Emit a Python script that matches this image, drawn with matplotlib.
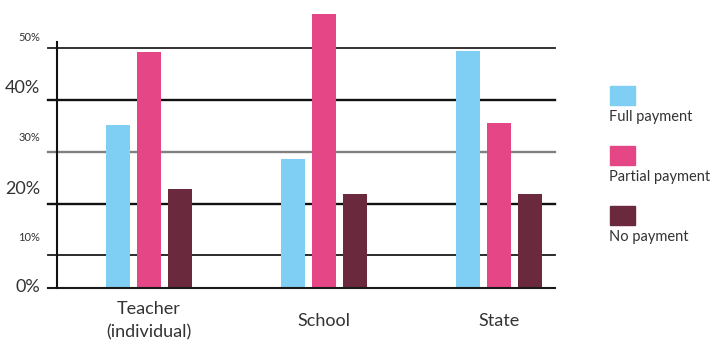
import matplotlib.pyplot as plt
from matplotlib.patches import Rectangle
import numpy as np

plt.rcParams['font.family'] = ['Lato', 'DejaVu Sans']

# Share of responses per payer, by payment type (%)
categories = ['Teacher\n(individual)', 'School', 'State']
series = ['Full payment', 'Partial payment', 'No payment']
full_payment = [35.2, 28.7, 49.4]
partial_payment = [49.3, 56.7, 35.6]
no_payment = [22.8, 21.9, 21.9]
tick_values = [10, 20, 30, 40, 50]
tick_labels = ['10%', '20%', '30%', '40%', '50%']

colors = ['#7fcff4', '#e44686', '#6b293d']
text_color = '#333333'

# the value axis starts a little above zero but is labelled 0%
y_base = 3.78
y_top = 59.33

W, H = 716, 340
fig = plt.figure(figsize=(W / 100, H / 100), dpi=100)
ax = fig.add_axes([57 / W, (H - 287.5) / H, (555 - 57) / W, 287.5 / H])

x = np.arange(len(categories))
step, width = 0.179, 0.137
for i, vals in enumerate([full_payment, partial_payment, no_payment]):
    ax.bar(x + (i - 1) * step, vals, width, color=colors[i], zorder=3)

ax.set_xlim(-0.526, 2.32)
ax.set_ylim(y_base, y_top)

# horizontal rules, each with its own weight
rule_styles = {
    10: ('#1a1a1a', 1.3),
    20: ('#111111', 1.7),
    30: ('#808080', 1.7),
    40: ('#111111', 1.7),
    50: ('#222222', 1.3),
}
tick_out = -9 / 498
ax.axhline(y_base, xmin=tick_out, xmax=1, color='#1a1a1a', lw=1.5,
           clip_on=False, zorder=4)
for v in tick_values:
    c, lw = rule_styles[v]
    ax.axhline(v, xmin=tick_out, xmax=1, color=c, lw=lw, clip_on=False, zorder=1)

for s in ['top', 'right', 'bottom']:
    ax.spines[s].set_visible(False)
ax.spines['left'].set_color('#111111')
ax.spines['left'].set_linewidth(1.5)
ax.spines['left'].set_bounds(y_base, 51.3)
ax.spines['left'].set_zorder(5)
ax.set_xticks([])
ax.set_yticks([])

# value labels: alternating sizes, sitting just above their rule
label_x = (40 - 57) / 498
ax.annotate('0%', xy=(label_x, y_base), xycoords=('axes fraction', 'data'),
            ha='right', va='center', fontsize=13, color=text_color,
            annotation_clip=False)
label_sizes = [8, 13, 8, 13, 8]
label_lift = [12, 7, 9, 4, 5]
for v, lab, fs, lift in zip(tick_values, tick_labels, label_sizes, label_lift):
    ax.annotate(lab, xy=(label_x, v), xycoords=('axes fraction', 'data'),
                xytext=(0, lift), textcoords='offset pixels',
                ha='right', va='bottom', fontsize=fs, color=text_color,
                annotation_clip=False)

# category names under each group
for xi, cat in zip(x, categories):
    ax.annotate(cat, xy=(xi, y_base), xycoords='data',
                xytext=(0, -33), textcoords='offset pixels',
                ha='center', va='center', fontsize=13, color=text_color,
                linespacing=1.6, annotation_clip=False)

# legend: swatch above each label
for i, name in enumerate(series):
    top = 86 + i * 60
    fig.add_artist(Rectangle((610 / W, (H - top - 19) / H), 25 / W, 19 / H,
                             color=colors[i], transform=fig.transFigure))
    fig.text(609 / W, (H - top - 31) / H, name, ha='left', va='center',
             fontsize=10.5, color=text_color)

fig.savefig('out.png', dpi=100)
